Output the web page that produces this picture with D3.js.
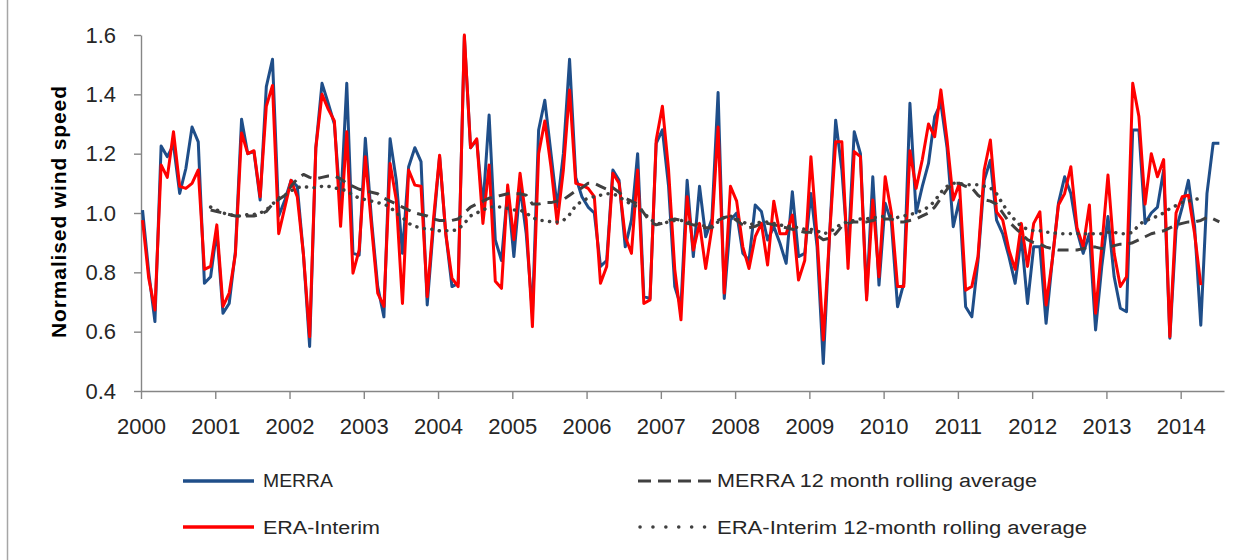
<!DOCTYPE html>
<html>
<head>
<meta charset="utf-8">
<script src="https://cdn.jsdelivr.net/npm/d3@7"></script>
<style>
  body { margin: 0; background: #fff; }
  svg { display: block; font-family: "Liberation Sans", Arial, sans-serif; }
</style>
</head>
<body>
<script>
// monthly values, Jan 2000 onwards
const years = ["2000","2001","2002","2003","2004","2005","2006","2007","2008","2009","2010","2011","2012","2013","2014"];
const yTicks = [0.4, 0.6, 0.8, 1.0, 1.2, 1.4, 1.6];

const merra = [
  1.01, 0.80, 0.634, 1.226, 1.19, 1.23, 1.066, 1.15, 1.29, 1.24,
  0.763, 0.785, 0.94, 0.662, 0.695, 0.87, 1.316, 1.2, 1.207, 1.044,
  1.426, 1.518, 0.99, 1.044, 1.11, 1.09, 0.86, 0.55, 1.22, 1.437,
  1.37, 1.30, 1.02, 1.437, 0.864, 0.858, 1.252, 0.976, 0.752, 0.65,
  1.25, 1.11, 0.864, 1.156, 1.22, 1.173, 0.69, 0.954, 1.19, 0.93,
  0.752, 0.763, 1.595, 1.22, 1.246, 1.02, 1.33, 0.909, 0.84, 1.078,
  0.853, 1.09, 0.93, 0.662, 1.28, 1.38, 1.20, 1.02, 1.20, 1.518,
  1.12, 1.055, 1.02, 1.0, 0.82, 0.84, 1.145, 1.11, 0.886, 0.976,
  1.20, 0.718, 0.712, 1.235, 1.28, 1.09, 0.752, 0.685, 1.11, 0.853,
  1.09, 0.92, 0.98, 1.406, 0.712, 0.976, 1.0, 0.864, 0.84, 1.027,
  1.005, 0.909, 0.954, 0.898, 0.83, 1.072, 0.853, 0.864, 1.066, 0.886,
  0.493, 0.92, 1.313, 1.145, 0.864, 1.274, 1.20, 0.718, 1.122, 0.757,
  1.033, 0.97, 0.684, 0.763, 1.37, 1.0, 1.09, 1.167, 1.325, 1.37,
  1.22, 0.954, 1.044, 0.684, 0.65, 0.84, 1.11, 1.178, 0.976, 0.93,
  0.853, 0.763, 0.92, 0.695, 0.886, 0.886, 0.628, 0.84, 1.033, 1.122,
  1.066, 0.94, 0.864, 0.93, 0.606, 0.82, 0.988, 0.785, 0.679, 0.667,
  1.28, 1.28, 0.965, 1.0, 1.02, 1.145, 0.578, 0.943, 1.02, 1.11,
  0.954, 0.622, 1.066, 1.235, 1.235
];

const era = [
  0.976, 0.78, 0.673, 1.162, 1.12, 1.274, 1.09, 1.083, 1.10, 1.145,
  0.81, 0.82, 0.96, 0.685, 0.73, 0.86, 1.27, 1.2, 1.21, 1.055,
  1.36, 1.43, 0.93, 1.02, 1.11, 1.055, 0.86, 0.583, 1.22, 1.40,
  1.35, 1.31, 0.955, 1.274, 0.797, 0.875, 1.19, 0.954, 0.73, 0.685,
  1.167, 1.044, 0.695, 1.145, 1.094, 1.09, 0.718, 0.976, 1.195, 0.93,
  0.78, 0.752, 1.6, 1.22, 1.25, 0.965, 1.162, 0.77, 0.746, 1.094,
  0.91, 1.134, 0.976, 0.617, 1.20, 1.31, 1.156, 0.965, 1.145, 1.415,
  1.10, 1.094, 1.083, 1.055, 0.763, 0.82, 1.134, 1.10, 0.92, 0.864,
  1.145, 0.695, 0.707, 1.246, 1.36, 1.145, 0.81, 0.64, 1.055, 0.875,
  0.965, 0.813, 0.95, 1.29, 0.73, 1.09, 1.04, 0.886, 0.813, 0.92,
  0.965, 0.825, 1.04, 0.93, 0.93, 0.993, 0.774, 0.84, 1.19, 0.92,
  0.572, 0.92, 1.24, 1.24, 0.813, 1.207, 1.19, 0.707, 1.044, 0.785,
  1.122, 1.0, 0.752, 0.752, 1.21, 1.083, 1.18, 1.30, 1.257, 1.415,
  1.246, 1.044, 1.10, 0.74, 0.752, 0.853, 1.145, 1.246, 1.004, 0.976,
  0.875, 0.81, 0.965, 0.82, 0.965, 1.004, 0.69, 0.84, 1.027, 1.066,
  1.156, 0.95, 0.886, 1.027, 0.662, 0.886, 1.128, 0.864, 0.752, 0.785,
  1.437, 1.325, 1.03, 1.2, 1.122, 1.18, 0.583, 1.0, 1.055, 1.06,
  0.93, 0.757
];

// rolling averages begin at the 12th month (index 11)
const avgStart = 11;

const merraAvg = [
  1.01, 1.005, 1.0, 0.995, 0.99, 0.99, 0.99, 0.99, 0.995, 1.005,
  1.03, 1.045, 1.06, 1.09, 1.115, 1.13, 1.12, 1.115, 1.12, 1.125,
  1.125, 1.115, 1.10, 1.09, 1.08, 1.075, 1.07, 1.065, 1.05, 1.04,
  1.03, 1.02, 1.01, 1.0, 0.995, 0.99, 0.98, 0.975, 0.975, 0.975,
  0.98, 1.0, 1.02, 1.03, 1.04, 1.05, 1.055, 1.06, 1.065, 1.065,
  1.065, 1.06, 1.03, 1.03, 1.035, 1.035, 1.04, 1.045, 1.06, 1.075,
  1.085, 1.1, 1.1, 1.09, 1.08, 1.085, 1.07, 1.05, 1.04, 1.03,
  1.0, 0.97, 0.96, 0.965, 0.975, 0.98, 0.975, 0.965, 0.96, 0.955,
  0.95, 0.95, 0.975, 0.985, 0.99, 0.975, 0.96, 0.95, 0.955, 0.965,
  0.965, 0.96, 0.955, 0.95, 0.945, 0.94, 0.935, 0.935, 0.925, 0.91,
  0.915, 0.93, 0.955, 0.965, 0.97, 0.97, 0.97, 0.975, 0.98, 0.98,
  0.98, 0.97, 0.97, 0.975, 0.98, 0.99, 1.0, 1.02, 1.05, 1.08,
  1.1, 1.1, 1.09, 1.085, 1.06, 1.045, 1.04, 1.03, 1.0, 0.97,
  0.95, 0.93, 0.91, 0.9, 0.895, 0.885, 0.88, 0.875, 0.875, 0.875,
  0.875, 0.88, 0.885, 0.885, 0.88, 0.885, 0.89, 0.895, 0.895, 0.9,
  0.91, 0.92, 0.93, 0.935, 0.94, 0.95, 0.96, 0.965, 0.97, 0.97,
  0.975, 0.985, 0.98, 0.97
];

const eraAvg = [
  1.02, 1.01, 1.0, 0.995, 0.99, 0.99, 0.995, 0.995, 1.0, 1.01,
  1.03, 1.05, 1.06, 1.075, 1.085, 1.09, 1.085, 1.085, 1.09, 1.09,
  1.085, 1.08, 1.075, 1.06, 1.05, 1.045, 1.04, 1.035, 1.03, 1.02,
  1.0, 0.985, 0.965, 0.955, 0.95, 0.945, 0.945, 0.94, 0.94, 0.94,
  0.945, 0.965, 0.99, 1.0, 1.01, 1.02, 1.02, 1.02, 1.015, 1.01,
  1.01, 1.0, 0.985, 0.975, 0.975, 0.97, 0.97, 0.975, 0.995, 1.025,
  1.04, 1.05, 1.055, 1.06, 1.065, 1.065, 1.055, 1.04, 1.03, 1.02,
  1.0, 0.98, 0.965, 0.965, 0.97, 0.975, 0.975, 0.97, 0.965, 0.96,
  0.955, 0.955, 0.97, 0.985, 0.99, 0.98, 0.97, 0.96, 0.965, 0.97,
  0.97, 0.965, 0.96, 0.955, 0.955, 0.95, 0.945, 0.945, 0.94, 0.93,
  0.935, 0.95, 0.965, 0.97, 0.975, 0.98, 0.98, 0.985, 0.985, 0.99,
  0.99, 0.985, 0.99, 0.995, 1.0, 1.01, 1.02, 1.04, 1.07, 1.09,
  1.1, 1.1, 1.095, 1.095, 1.095, 1.09, 1.085, 1.065, 1.03, 1.0,
  0.975, 0.955, 0.945, 0.94, 0.94, 0.935, 0.935, 0.93, 0.93, 0.93,
  0.93, 0.93, 0.93, 0.93, 0.93, 0.935, 0.935, 0.93, 0.93, 0.935,
  0.96, 0.975, 0.98, 0.99, 1.0, 1.015, 1.025, 1.035, 1.04, 1.045,
  1.05
];

const series = [
  { name: "MERRA", values: merra, start: 0, color: "#1f4e89", width: 3, dash: null },
  { name: "ERA-Interim", values: era, start: 0, color: "#ff0000", width: 3, dash: null },
  { name: "MERRA 12 month rolling average", values: merraAvg, start: avgStart, color: "#404040", width: 3, dash: "11,7" },
  { name: "ERA-Interim 12-month rolling average", values: eraAvg, start: avgStart, color: "#404040", width: 3.5, dash: "0.1,7.5" }
];

const W = 1250, H = 560;
const svg = d3.select("body").append("svg").attr("width", W).attr("height", H);

// x in months since Jan 2000
const x = d3.scaleLinear().domain([0, 175]).range([141, 1224]);
const y = d3.scaleLinear().domain([0.4, 1.6]).range([391, 35]);

svg.append("line")
  .attr("x1", 7.5).attr("x2", 7.5).attr("y1", 0).attr("y2", H)
  .attr("stroke", "#a6a6a6").attr("stroke-width", 1.5);

const xAxis = svg.append("g")
  .attr("transform", "translate(0,391)")
  .call(d3.axisBottom(x)
    .tickValues(years.map((d, k) => k * 12))
    .tickFormat((d, k) => years[k])
    .tickSize(8).tickSizeOuter(0).tickPadding(19));

const yAxis = svg.append("g")
  .attr("transform", "translate(141,0)")
  .call(d3.axisLeft(y)
    .tickValues(yTicks)
    .tickFormat(d3.format(".1f"))
    .tickSize(7).tickSizeOuter(0).tickPadding(18));

[xAxis, yAxis].forEach(g => {
  g.selectAll("path, line").attr("stroke", "#868686").attr("stroke-width", 1.4);
  g.selectAll("text")
    .attr("fill", "#262626")
    .style("font-size", "22px")
    .style("font-family", "'Liberation Sans', Arial, sans-serif");
});

svg.append("text")
  .attr("transform", "translate(66,212) rotate(-90)")
  .attr("text-anchor", "middle")
  .attr("font-weight", "bold")
  .attr("font-size", 21)
  .attr("fill", "#000")
  .attr("textLength", 252)
  .text("Normalised wind speed");

const line = d3.line()
  .x(d => x(d.i + 0.25))
  .y(d => y(d.v));

series.forEach(s => {
  const pts = s.values.map((v, k) => ({ i: s.start + k, v: v }));
  svg.append("path")
    .datum(pts)
    .attr("fill", "none")
    .attr("stroke", s.color)
    .attr("stroke-width", s.width)
    .attr("stroke-linejoin", "round")
    .attr("stroke-linecap", s.dash && s.dash.startsWith("0.1") ? "round" : "butt")
    .attr("stroke-dasharray", s.dash)
    .attr("d", line);
});

// legend
const legend = [
  { s: series[0], x1: 183, x2: 254, y: 481, tx: 263, ty: 487, len: 70 },
  { s: series[1], x1: 183, x2: 254, y: 527, tx: 263, ty: 534, len: 117 },
  { s: series[2], x1: 638, x2: 711, y: 481, tx: 717, ty: 487, len: 320 },
  { s: series[3], x1: 640, x2: 706, y: 527, tx: 717, ty: 534, len: 370 }
];

const lg = svg.append("g").selectAll("g").data(legend).enter().append("g");

lg.append("line")
  .attr("x1", d => d.x1).attr("x2", d => d.x2)
  .attr("y1", d => d.y).attr("y2", d => d.y)
  .attr("stroke", d => d.s.color)
  .attr("stroke-width", d => d.s.dash ? d.s.width : 3.5)
  .attr("stroke-linecap", d => d.s.dash && d.s.dash.startsWith("0.1") ? "round" : "butt")
  .attr("stroke-dasharray", d => d.s.dash ? (d.s.dash.startsWith("0.1") ? "0.1,12.8" : "13,7") : null);

lg.append("text")
  .attr("x", d => d.tx).attr("y", d => d.ty)
  .attr("font-size", 18)
  .attr("fill", "#262626")
  .attr("textLength", d => d.len)
  .attr("lengthAdjust", "spacingAndGlyphs")
  .text(d => d.s.name);
</script>
</body>
</html>
